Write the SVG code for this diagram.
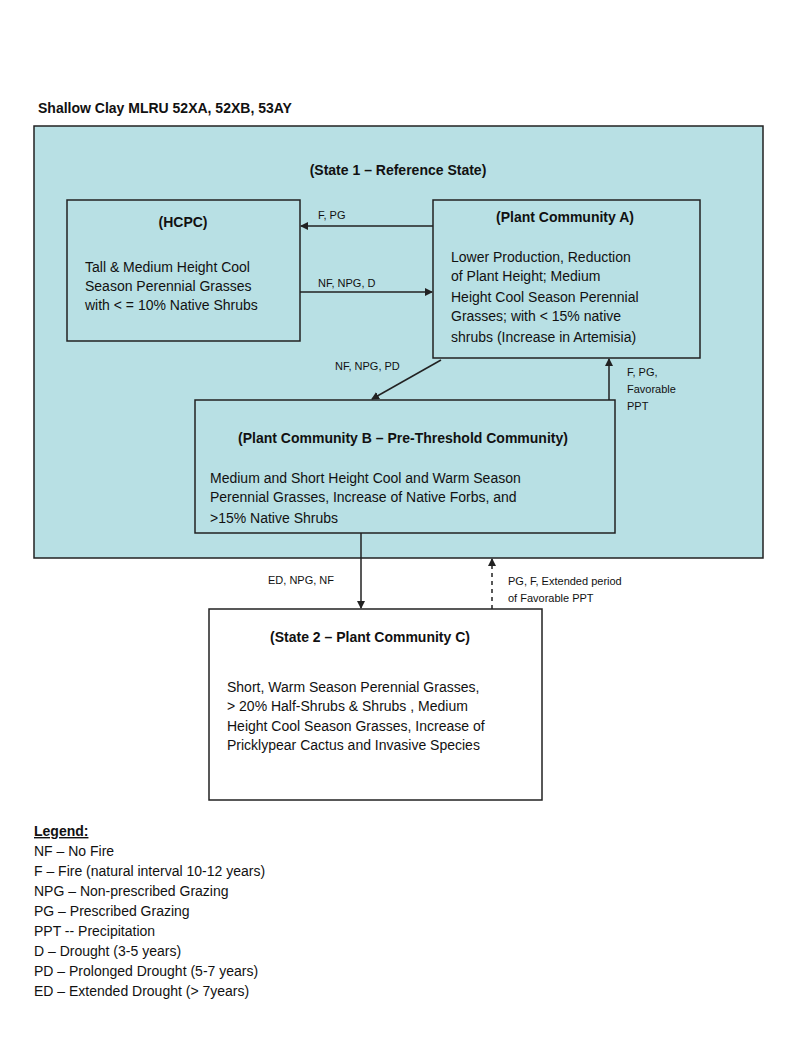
<svg xmlns="http://www.w3.org/2000/svg" width="800" height="1050" viewBox="0 0 800 1050">
<style>
.box{fill:#b8e0e4;stroke:#222;stroke-width:1.5}
.wbox{fill:#fff;stroke:#222;stroke-width:1.5}
.t{font-family:"Liberation Sans",Arial,sans-serif;font-size:14px;fill:#111}
.h{font-family:"Liberation Sans",Arial,sans-serif;font-size:14px;font-weight:bold;fill:#111}
.s{font-family:"Liberation Sans",Arial,sans-serif;font-size:11px;fill:#111}
.c{stroke:#222;stroke-width:1.5;fill:none}
</style>
<defs><marker id="a" markerWidth="8" markerHeight="8" refX="7" refY="4" orient="auto" markerUnits="userSpaceOnUse"><path d="M0,0L8,4L0,8z" fill="#222"/></marker></defs>
<rect width="800" height="1050" fill="#fff"/>
<text x="38" y="113" class="h" font-size="15">Shallow Clay  MLRU 52XA, 52XB, 53AY</text>
<g id="state1"><rect x="34" y="126" width="729" height="432" class="box"/>
<text x="398" y="175" class="h" text-anchor="middle" font-size="15">(State 1 – Reference State)</text></g>
<g id="hcpc"><rect x="67" y="200" width="233" height="141" class="box"/>
<text x="183" y="227" class="h" text-anchor="middle">(HCPC)</text>
<text class="t" x="85" y="272">Tall &amp; Medium Height Cool</text>
<text class="t" x="85" y="291">Season Perennial Grasses</text>
<text class="t" x="85" y="310">with &lt; = 10% Native Shrubs</text></g>
<g id="pca"><rect x="433" y="200" width="267" height="158" class="box"/>
<text x="565" y="222" class="h" text-anchor="middle">(Plant Community A)</text>
<text class="t" x="451" y="262">Lower Production, Reduction</text>
<text class="t" x="451" y="281">of Plant Height; Medium</text>
<text class="t" x="451" y="302">Height Cool Season Perennial</text>
<text class="t" x="451" y="321">Grasses; with &lt; 15% native</text>
<text class="t" x="451" y="342">shrubs (Increase in Artemisia)</text></g>
<g id="pcb"><rect x="195" y="400" width="420" height="133" class="box"/>
<text x="403" y="443" class="h" text-anchor="middle">(Plant Community B – Pre-Threshold Community)</text>
<text class="t" x="210" y="483">Medium and Short Height Cool and Warm Season</text>
<text class="t" x="210" y="502">Perennial Grasses, Increase of Native Forbs, and</text>
<text class="t" x="210" y="523">&gt;15% Native Shrubs</text></g>
<g id="state2"><rect x="209" y="609" width="333" height="191" class="wbox"/>
<text x="370" y="642" class="h" text-anchor="middle">(State 2 – Plant Community C)</text>
<text class="t" x="227" y="692">Short, Warm Season Perennial Grasses,</text>
<text class="t" x="227" y="711">&gt; 20% Half-Shrubs &amp; Shrubs , Medium</text>
<text class="t" x="227" y="731">Height Cool Season Grasses, Increase of</text>
<text class="t" x="227" y="750">Pricklypear Cactus and Invasive Species</text></g>
<g id="connectors">
<line x1="433" y1="226" x2="301" y2="226" class="c" marker-end="url(#a)"/>
<line x1="300" y1="292" x2="432" y2="292" class="c" marker-end="url(#a)"/>
<line x1="441" y1="360" x2="372" y2="399" class="c" marker-end="url(#a)"/>
<line x1="609" y1="400" x2="609" y2="359" class="c" marker-end="url(#a)"/>
<line x1="361" y1="533" x2="361" y2="608" class="c" marker-end="url(#a)"/>
<line x1="492" y1="609" x2="492" y2="559" class="c" stroke-dasharray="4,4" marker-end="url(#a)"/>
<text class="s" x="318" y="219">F, PG</text>
<text class="s" x="318" y="287">NF, NPG, D</text>
<text class="s" x="335" y="370">NF, NPG, PD</text>
<text class="s" x="627" y="376">F, PG,</text>
<text class="s" x="627" y="393">Favorable</text>
<text class="s" x="627" y="410">PPT</text>
<text class="s" x="268" y="584">ED, NPG, NF</text>
<text class="s" x="508" y="585">PG, F, Extended period</text>
<text class="s" x="508" y="602">of Favorable PPT</text>
</g>
<g id="legend" class="t">
<text x="34" y="836" class="h" text-decoration="underline">Legend:</text>
<text x="34" y="856" class="t">NF – No Fire</text>
<text x="34" y="876" class="t">F – Fire (natural interval 10-12 years)</text>
<text x="34" y="896" class="t">NPG – Non-prescribed Grazing</text>
<text x="34" y="916" class="t">PG – Prescribed Grazing</text>
<text x="34" y="936" class="t">PPT -- Precipitation</text>
<text x="34" y="956" class="t">D – Drought (3-5 years)</text>
<text x="34" y="976" class="t">PD – Prolonged Drought (5-7 years)</text>
<text x="34" y="996" class="t">ED – Extended Drought (&gt; 7years)</text>
</g>
</svg>
